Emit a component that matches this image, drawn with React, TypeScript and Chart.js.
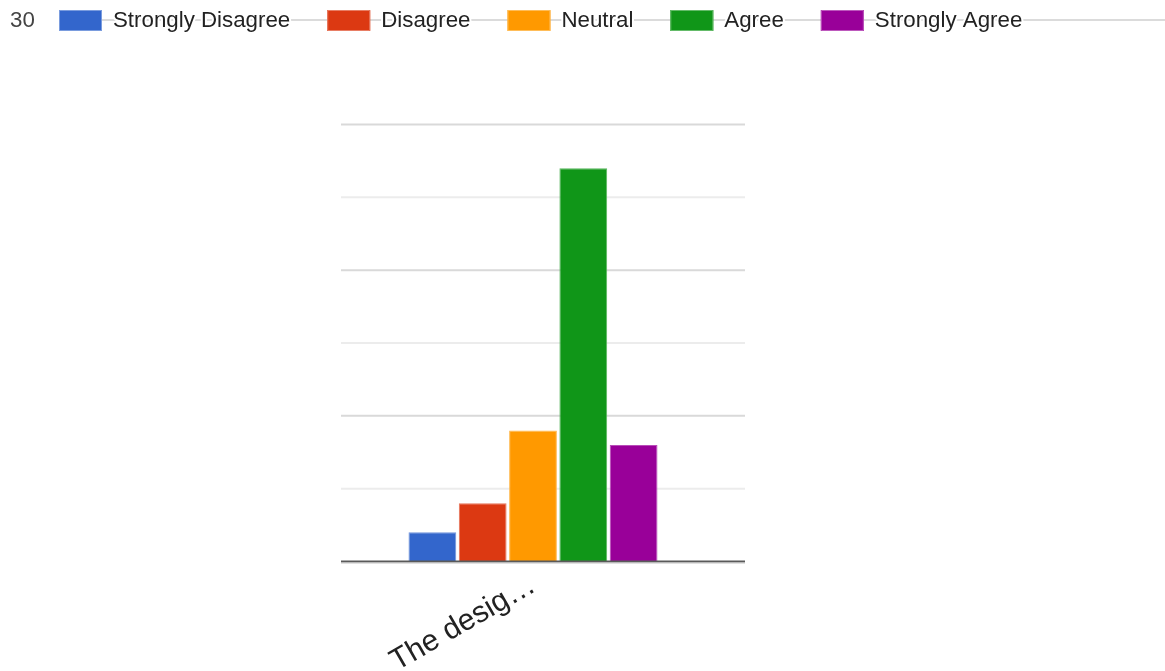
import React, { useEffect, useRef } from "react";
import { Chart, registerables } from "chart.js";

Chart.register(...registerables);

// Survey answers for one statement
const categories = ["The desig\u2026"];
const seriesNames = ["Strongly Disagree", "Disagree", "Neutral", "Agree", "Strongly Agree"];
const seriesValues = [2, 4, 9, 27, 8];
const seriesColors = ["#3366cc", "#dc3912", "#ff9900", "#109618", "#990099"];
const yTickValues = [0, 5, 10, 15, 20, 25, 30];

const FONT = "Arial, 'Liberation Sans', sans-serif";
const WIDTH = 1165;
const HEIGHT = 671;

function lighten(hex: string, amount: number): string {
  const n = parseInt(hex.slice(1), 16);
  const r = (n >> 16) & 255;
  const g = (n >> 8) & 255;
  const b = n & 255;
  const mix = (c: number) => Math.round(c + (255 - c) * amount);
  return `rgb(${mix(r)},${mix(g)},${mix(b)})`;
}

// Horizontal gridlines (major every 10, minor in between) and the dark baseline
const gridPlugin = {
  id: "gridLines",
  beforeDatasetsDraw(chart: any) {
    const { ctx, chartArea, scales } = chart;
    const y = scales.y;
    const right = chartArea.right + 20;
    ctx.save();
    ctx.lineWidth = 2;
    for (const v of yTickValues) {
      if (v === 0) continue;
      const py = y.getPixelForValue(v);
      ctx.strokeStyle = v % 10 === 0 ? "#d9d9d9" : "#ececec";
      ctx.beginPath();
      ctx.moveTo(chartArea.left, py);
      ctx.lineTo(right, py);
      ctx.stroke();
    }
    ctx.restore();
  },
  afterDatasetsDraw(chart: any) {
    const { ctx, chartArea, scales } = chart;
    const py = scales.y.getPixelForValue(0);
    const right = chartArea.right + 20;
    ctx.save();
    ctx.strokeStyle = "#5a5a5a";
    ctx.lineWidth = 2;
    ctx.beginPath();
    ctx.moveTo(chartArea.left, py);
    ctx.lineTo(right, py);
    ctx.stroke();
    ctx.strokeStyle = "#c4c4c4";
    ctx.lineWidth = 1;
    ctx.beginPath();
    ctx.moveTo(chartArea.left, py + 1.5);
    ctx.lineTo(right, py + 1.5);
    ctx.stroke();
    ctx.restore();
  },
};

// Top row: the axis maximum followed by a legend strung on a thin line
const legendRowPlugin = {
  id: "legendRow",
  afterDraw(chart: any) {
    const { ctx, scales } = chart;
    const baseline = 27;
    ctx.save();
    ctx.font = `22.3px ${FONT}`;
    ctx.textBaseline = "alphabetic";
    ctx.textAlign = "left";
    ctx.fillStyle = "#444";
    ctx.fillText(String(scales.y.max), 10, baseline);

    const startX = 59;
    const boxW = 43;
    const boxH = 21;
    const boxTop = 10;
    const textGap = 11;
    const itemGap = 37;
    const lineY = 20;

    // connecting line runs behind the whole legend
    ctx.strokeStyle = "#cfcfcf";
    ctx.lineWidth = 1.5;
    ctx.beginPath();
    ctx.moveTo(startX, lineY);
    ctx.lineTo(chart.width, lineY);
    ctx.stroke();

    let x = startX;
    chart.data.datasets.forEach((ds: any, i: number) => {
      ctx.fillStyle = seriesColors[i];
      ctx.fillRect(x, boxTop, boxW, boxH);
      ctx.strokeStyle = lighten(seriesColors[i], 0.35);
      ctx.lineWidth = 1;
      ctx.strokeRect(x + 0.5, boxTop + 0.5, boxW - 1, boxH - 1);
      const tx = x + boxW + textGap;
      ctx.lineJoin = "round";
      ctx.strokeStyle = "#ffffff";
      ctx.lineWidth = 4;
      ctx.strokeText(ds.label, tx, baseline);
      ctx.fillStyle = "#222";
      ctx.fillText(ds.label, tx, baseline);
      x = tx + ctx.measureText(ds.label).width + itemGap;
    });
    ctx.restore();
  },
};

export default function App() {
  const canvasRef = useRef<HTMLCanvasElement | null>(null);

  useEffect(() => {
    const canvas = canvasRef.current;
    if (!canvas) return;
    const chart = new Chart(canvas, {
      type: "bar",
      data: {
        labels: categories,
        datasets: seriesNames.map((name, i) => ({
          label: name,
          data: [seriesValues[i]],
          backgroundColor: seriesColors[i],
          borderColor: lighten(seriesColors[i], 0.3),
          borderWidth: 1,
          barPercentage: 0.95,
          categoryPercentage: 0.655,
        })),
      },
      options: {
        responsive: false,
        animation: false,
        layout: { padding: { left: 341, right: 440, top: 124.5, bottom: 0 } },
        plugins: {
          legend: { display: false },
          tooltip: { enabled: false },
          title: { display: false },
        },
        scales: {
          x: {
            grid: { display: false, drawTicks: false },
            border: { display: false },
            ticks: {
              autoSkip: false,
              minRotation: 30,
              maxRotation: 30,
              padding: 6,
              color: "#222",
              font: { family: FONT, size: 30 },
            },
            afterFit: (scale: any) => {
              scale.height = HEIGHT - 561.5;
            },
          },
          y: {
            display: false,
            min: 0,
            max: 30,
            ticks: { stepSize: 5 },
          },
        },
      },
      plugins: [gridPlugin, legendRowPlugin],
    });
    return () => chart.destroy();
  }, []);

  return (
    <div style={{ position: "fixed", left: 0, top: 0, width: WIDTH, height: HEIGHT, background: "#fff" }}>
      <canvas ref={canvasRef} width={WIDTH} height={HEIGHT} style={{ display: "block" }} />
    </div>
  );
}
